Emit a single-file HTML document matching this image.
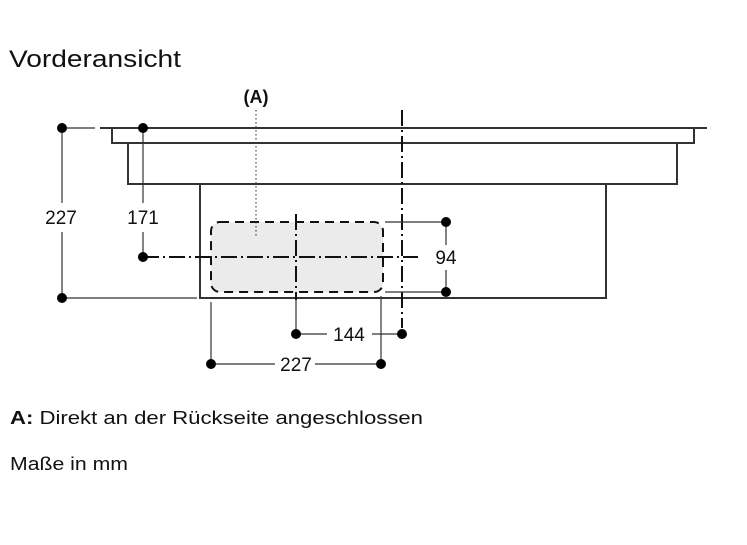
<!DOCTYPE html>
<html><head><meta charset="utf-8"><style>
html,body{margin:0;padding:0;background:#fff;width:747px;height:545px;overflow:hidden}
svg{display:block}
text{font-family:"Liberation Sans",sans-serif;fill:#111}
</style></head><body>
<svg width="747" height="545" viewBox="0 0 747 545" xmlns="http://www.w3.org/2000/svg">
<text x="9" y="67" font-size="24" textLength="172" lengthAdjust="spacingAndGlyphs">Vorderansicht</text>
<text x="256" y="103" font-size="18" text-anchor="middle" font-weight="bold">(A)</text>

<g stroke="#333" stroke-width="2" fill="none">
<path d="M100 128 H707"/>
<path d="M112 128 V143 H694 V128"/>
<path d="M128 143 V184 H677 V143"/>
<path d="M200 184 V298 H606 V184"/>
</g>
<rect x="211" y="222" width="172" height="70" rx="9" fill="#ebebeb" stroke="#111" stroke-width="2" stroke-dasharray="9,6"/>
<line x1="256" y1="110" x2="256" y2="238" stroke="#444" stroke-width="1.2" stroke-dasharray="1.5,2.5"/>
<g stroke="#111" stroke-width="2" stroke-dasharray="16,4,2,4">
<line x1="143" y1="257" x2="418" y2="257"/>
<line x1="296" y1="214" x2="296" y2="300"/>
<line x1="402" y1="110" x2="402" y2="328"/>
</g>
<g stroke="#333" stroke-width="1.2">
<line x1="62" y1="128" x2="95" y2="128"/>
<line x1="62" y1="128" x2="62" y2="203"/><line x1="62" y1="232" x2="62" y2="298"/>
<line x1="62" y1="298" x2="197" y2="298"/>
<line x1="143" y1="128" x2="143" y2="203"/><line x1="143" y1="232" x2="143" y2="257"/>
<line x1="385" y1="222" x2="446" y2="222"/><line x1="385" y1="292" x2="446" y2="292"/>
<line x1="446" y1="222" x2="446" y2="245"/><line x1="446" y1="270" x2="446" y2="292"/>
<line x1="296" y1="300" x2="296" y2="334"/>
<line x1="296" y1="334" x2="327" y2="334"/><line x1="372" y1="334" x2="402" y2="334"/>
<line x1="211" y1="302" x2="211" y2="364"/><line x1="381" y1="296" x2="381" y2="364"/>
<line x1="211" y1="364" x2="275" y2="364"/><line x1="315" y1="364" x2="381" y2="364"/>
</g>
<g fill="#000">
<circle cx="62" cy="128" r="5"/><circle cx="143" cy="128" r="5"/>
<circle cx="62" cy="298" r="5"/><circle cx="143" cy="257" r="5"/>
<circle cx="446" cy="222" r="5"/><circle cx="446" cy="292" r="5"/>
<circle cx="296" cy="334" r="5"/><circle cx="402" cy="334" r="5"/>
<circle cx="211" cy="364" r="5"/><circle cx="381" cy="364" r="5"/>
</g>
<g font-size="19" text-anchor="middle">
<text x="61" y="224">227</text>
<text x="143" y="224">171</text>
<text x="446" y="264">94</text>
<text x="349" y="341">144</text>
<text x="296" y="371">227</text>
</g>
<text x="10" y="424" font-size="18" textLength="413" lengthAdjust="spacingAndGlyphs"><tspan font-weight="bold">A:</tspan> Direkt an der Rückseite angeschlossen</text>
<text x="10" y="470" font-size="18" textLength="118" lengthAdjust="spacingAndGlyphs">Maße in mm</text>
</svg>
</body></html>
